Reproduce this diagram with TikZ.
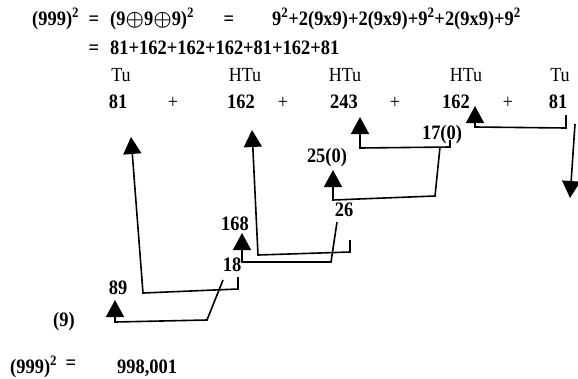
\documentclass[tikz,border=0pt]{standalone}
\usepackage{fontspec}
\setmainfont[FakeStretch=0.9]{Liberation Serif}
\usetikzlibrary{arrows.meta}

\begin{document}
\begin{tikzpicture}[x=1bp, y=-1bp, >={Triangle[width=18bp,length=17bp]},
  num/.style={font=\fontsize{20.5bp}{24bp}\selectfont\bfseries, inner sep=0pt, anchor=base},
  lab/.style={font=\fontsize{20bp}{24bp}\selectfont, inner sep=0pt, anchor=base},
  lien/.style={line width=1.6bp, line join=miter}]
\useasboundingbox (0,0) rectangle (578,378);
% the expansion
\node[num, anchor=base west] (sqa) at (32,25) {(999)\textsuperscript{2}};
\node[num] (eqa) at (94,25) {=};
\node[num, anchor=base west] (sum) at (110,25) {(9{\boldmath$\oplus$}9{\boldmath$\oplus$}9)\textsuperscript{2}};
\node[num] (eqb) at (229,25) {=};
\node[num, anchor=base west] (dev) at (272,25) {9\textsuperscript{2}+2(9x9)+2(9x9)+9\textsuperscript{2}+2(9x9)+9\textsuperscript{2}};
\node[num] (eqc) at (94,54) {=};
\node[num, anchor=base west] (sumb) at (110,54) {81+162+162+162+81+162+81};
% place values and terms
\foreach \n/\x/\t in {ta/121/Tu, tb/245/HTu, tc/345/HTu, td/466/HTu, te/560/Tu}
  \node[lab] (\n) at (\x,81) {\t};
\foreach \n/\x/\t in {na/118/81, nb/241/162, nc/344/243, nd/456/162, ne/558/81}
  \node[num] (\n) at (\x,108) {\t};
\foreach \n/\x in {pa/173, pb/283, pc/395, pd/508}
  \node[lab] (\n) at (\x,108) {+};
% partial sums
\node[num] (ca) at (442,139) {17(0)};
\node[num] (cb) at (327,162) {25(0)};
\node[num] (cc) at (344,216) {26};
\node[num] (cd) at (235,230) {168};
\node[num] (ce) at (232,271) {18};
\node[num] (cf) at (118,294) {89};
\node[num] (cg) at (64,326) {(9)};
% result
\node[num, anchor=base west] (sqb) at (10,373) {(999)\textsuperscript{2}};
\node[num] (eqd) at (71,369) {=};
\node[num, anchor=base west] (res) at (117,373) {998,001};
% carries
\coordinate (ka) at (566,115); \coordinate (hka) at (475,106);
\coordinate (kb) at (575,124); \coordinate (hkb) at (570,198);
\coordinate (kc) at (450,140); \coordinate (hkc) at (360,117);
\coordinate (kd) at (440,147); \coordinate (hkd) at (333,170);
\coordinate (ke) at (350,240); \coordinate (hke) at (252,130);
\coordinate (kf) at (337,222); \coordinate (hkf) at (242,233);
\coordinate (kg) at (238,277); \coordinate (hkg) at (131,137);
\coordinate (kh) at (223,280); \coordinate (hkh) at (115,300);
\draw[lien,->] (ka) -- (566,128) -- (475,127) -- (hka);
\draw[lien,->] (kb) -- (hkb);
\draw[lien,->] (kc) -- (450,147) -- (360,148) -- (hkc);
\draw[lien,->] (kd) -- (435,196) -- (333,200) -- (hkd);
\draw[lien,->] (ke) -- (350,252) -- (258,255) -- (hke);
\draw[lien,->] (kf) -- (331,262) -- (242,262) -- (hkf);
\draw[lien,->] (kg) -- (238,289) -- (143,293) -- (hkg);
\draw[lien,->] (kh) -- (207,320) -- (115,322) -- (hkh);
\end{tikzpicture}
\end{document}
